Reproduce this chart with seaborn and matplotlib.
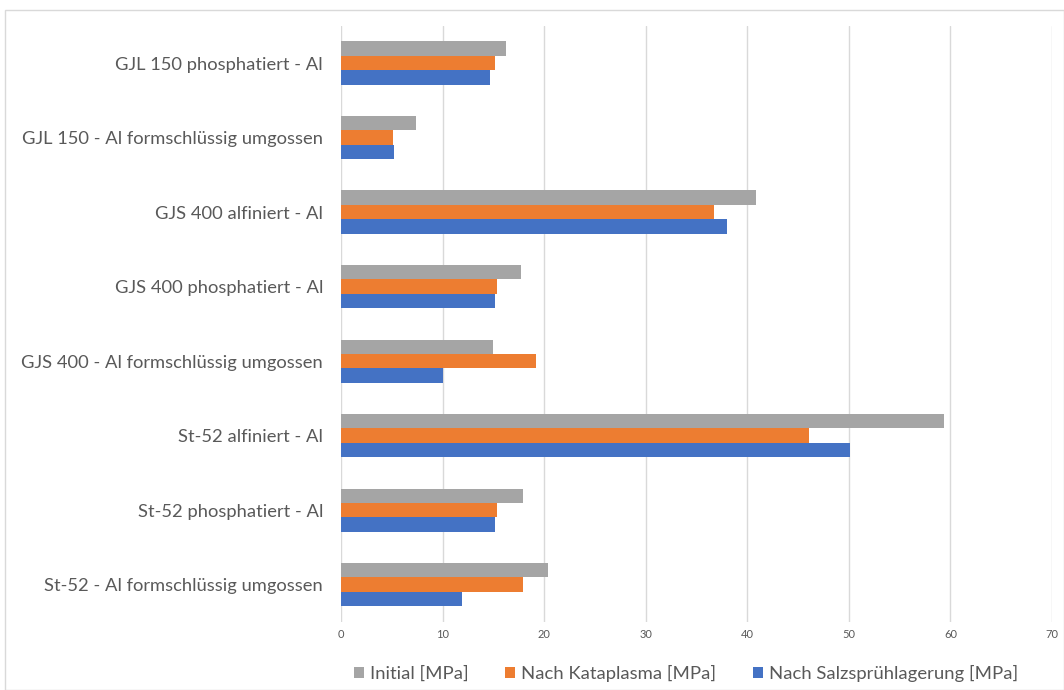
import matplotlib
matplotlib.use("Agg")
import matplotlib.pyplot as plt
import seaborn as sns
import pandas as pd
from matplotlib.patches import Patch, Rectangle

categories = [
    "GJL 150 phosphatiert - Al",
    "GJL 150 - Al formschlüssig umgossen",
    "GJS 400 alfiniert - Al",
    "GJS 400 phosphatiert - Al",
    "GJS 400 - Al formschlüssig umgossen",
    "St-52 alfiniert - Al",
    "St-52 phosphatiert - Al",
    "St-52 - Al formschlüssig umgossen",
]
series_names = ["Initial [MPa]", "Nach Kataplasma [MPa]", "Nach Salzsprühlagerung [MPa]"]
initial = [16.2, 7.4, 40.9, 17.7, 15.0, 59.4, 17.9, 20.4]
kataplasma = [15.2, 5.1, 36.7, 15.4, 19.2, 46.1, 15.4, 17.9]
salz = [14.7, 5.2, 38.0, 15.2, 10.0, 50.1, 15.2, 11.9]
colors = ["#A5A5A5", "#ED7D31", "#4472C4"]
xticks = [0, 10, 20, 30, 40, 50, 60, 70]

rows = []
for name, vals in zip(series_names, [initial, kataplasma, salz]):
    for c, v in zip(categories, vals):
        rows.append({"Kategorie": c, "Serie": name, "Wert": v})
df = pd.DataFrame(rows)

sns.set_theme(style="white")
plt.rcParams["font.family"] = ["Lato", "DejaVu Sans"]

fig = plt.figure(figsize=(10.64, 6.9), dpi=100)
ax = fig.add_axes([0.3205, 0.0986, 0.9887 - 0.3205, 0.9627 - 0.0986])

sns.barplot(data=df, y="Kategorie", x="Wert", hue="Serie", order=categories,
            hue_order=series_names, palette=colors, orient="h", width=0.58,
            gap=0, saturation=1, ax=ax, legend=False, linewidth=0)

ax.set_xlim(0, 70)
ax.set_xticks(xticks)
ax.set_xticklabels([str(t) for t in xticks], fontsize=8, color="#595959")
ax.set_ylim(7.5, -0.5)
ax.set_xlabel("")
ax.set_ylabel("")
ax.tick_params(axis="y", length=0, pad=13, labelsize=13.2, labelcolor="#595959")
ax.tick_params(axis="x", length=0, pad=5)
for s in ax.spines.values():
    s.set_visible(False)
ax.xaxis.grid(True, color="#d9d9d9", linewidth=1)
ax.set_axisbelow(True)

handles = [Patch(facecolor=c, edgecolor="none", label=n) for c, n in zip(colors, series_names)]
leg = ax.legend(handles=handles, loc="center", bbox_to_anchor=(0.485, -0.086),
                ncol=3, frameon=False, fontsize=13.3, handlelength=0.55, handleheight=0.55,
                handletextpad=0.3, columnspacing=2.0)
for t in leg.get_texts():
    t.set_color("#595959")

fig.patches.append(Rectangle((5 / 1064, 0.0), 1 - 5 / 1064, 1 - 10 / 690,
                             transform=fig.transFigure, fill=False,
                             edgecolor="#d9d9d9", linewidth=1))

fig.savefig("out.png", dpi=100, facecolor="white")
